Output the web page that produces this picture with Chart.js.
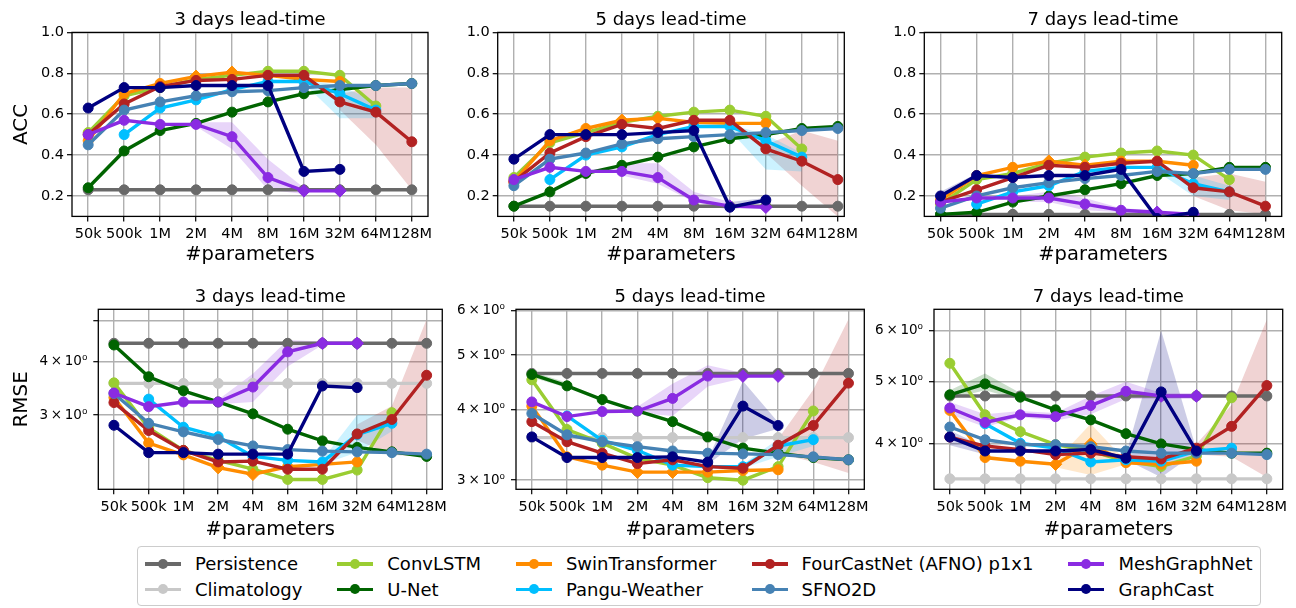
<!DOCTYPE html>
<html>
<head>
<meta charset="utf-8">
<script src="https://cdn.jsdelivr.net/npm/chart.js@4.4.1/dist/chart.umd.min.js"></script>
<style>
html,body{margin:0;padding:0;background:#fff;}
body{width:1296px;height:608px;position:relative;overflow:hidden;font-family:'DejaVu Sans',sans-serif;}
canvas{position:absolute;}
#legend{position:absolute;left:137px;top:546px;height:60px;box-sizing:border-box;border:1px solid #cccccc;border-radius:4px;padding:4px 7px 0 7px;display:flex;gap:35px;background:#fff;}
.col{display:flex;flex-direction:column;}
.entry{display:flex;align-items:center;height:25.5px;}
.handle{position:relative;width:36px;height:25px;margin-right:14px;flex:none;}
.handle .ln{position:absolute;left:0;right:0;top:11px;height:3.4px;}
.handle .mk{position:absolute;left:13px;top:7.5px;width:10px;height:10px;border-radius:50%;}
.lbl{font-size:18px;line-height:25px;white-space:nowrap;color:#000;}
</style>
</head>
<body>
<div id="legend"></div>
<script>
// ---------------- DATA ----------------
const CATEGORIES = ['50k','500k','1M','2M','4M','8M','16M','32M','64M','128M'];
const SERIES = ['Persistence','Climatology','ConvLSTM','U-Net','SwinTransformer','Pangu-Weather','FourCastNet (AFNO) p1x1','SFNO2D','MeshGraphNet','GraphCast'];
const COLORS = ['#696969','#c8c8c8','#9acd32','#006400','#ff8c00','#00bfff','#b22222','#4682b4','#8a2be2','#000080'];
const _ = null;

// ACC, 3 days (rows follow SERIES order)
const ACC_3D = [
  [0.23,0.23,0.23,0.23,0.23,0.23,0.23,0.23,0.23,0.23],
  [_,_,_,_,_,_,_,_,_,_],
  [0.51,0.69,0.73,0.77,0.79,0.81,0.81,0.79,0.64,_],
  [0.24,0.42,0.52,0.555,0.61,0.66,0.70,0.72,0.74,0.75],
  [0.47,0.70,0.75,0.785,0.805,0.79,0.77,0.76,_,_],
  [_,0.50,0.63,0.67,0.72,0.76,0.76,0.70,0.62,_],
  [0.50,0.65,0.735,0.765,0.77,0.79,0.79,0.66,0.61,0.465],
  [0.45,0.62,0.66,0.69,0.71,0.715,0.73,0.74,0.74,0.75],
  [0.50,0.57,0.55,0.55,0.49,0.29,0.225,0.225,_,_],
  [0.63,0.73,0.73,0.74,0.74,0.74,0.32,0.33,_,_]
];
const ACC_3D_BANDS = [ // [series, low, high]
  [8, [_,_,_,0.54,0.43,0.23,0.21,_,_,_], [_,_,_,0.56,0.56,0.38,0.24,_,_,_]],
  [5, [_,_,_,_,_,_,0.75,0.58,0.58,_], [_,_,_,_,_,_,0.77,0.74,0.66,_]],
  [6, [_,_,_,_,_,_,_,0.62,0.45,0.23], [_,_,_,_,_,_,_,0.70,0.73,0.73]]
];

// ACC, 5 days
const ACC_5D = [
  [0.15,0.15,0.15,0.15,0.15,0.15,0.15,0.15,0.15,0.15],
  [_,_,_,_,_,_,_,_,_,_],
  [0.29,0.46,0.51,0.56,0.59,0.61,0.62,0.59,0.43,_],
  [0.15,0.22,0.31,0.35,0.39,0.44,0.48,0.50,0.53,0.54],
  [0.27,0.47,0.53,0.57,0.58,0.56,0.555,0.555,_,_],
  [_,0.28,0.40,0.44,0.50,0.54,0.54,0.47,0.39,_],
  [0.27,0.41,0.49,0.55,0.53,0.57,0.57,0.43,0.37,0.28],
  [0.25,0.38,0.41,0.455,0.48,0.49,0.50,0.51,0.52,0.53],
  [0.28,0.34,0.32,0.32,0.29,0.18,0.15,0.145,_,_],
  [0.38,0.50,0.50,0.50,0.51,0.52,0.145,0.18,_,_]
];
const ACC_5D_BANDS = [
  [8, [_,_,_,0.30,0.26,0.17,0.13,_,_,_], [_,_,_,0.36,0.36,0.22,0.17,_,_,_]],
  [9, [_,_,_,_,_,0.51,0.13,0.17,_,_], [_,_,_,_,_,0.53,0.17,0.19,_,_]],
  [5, [_,_,_,_,_,_,0.52,0.33,0.32,_], [_,_,_,_,_,_,0.55,0.50,0.41,_]],
  [6, [_,_,_,_,_,_,_,0.41,0.25,0.10], [_,_,_,_,_,_,_,0.45,0.52,0.47]]
];

// ACC, 7 days
const ACC_7D = [
  [0.11,0.11,0.11,0.11,0.11,0.11,0.11,0.11,0.11,0.11],
  [_,_,_,_,_,_,_,_,_,_],
  [0.16,0.28,0.31,0.36,0.39,0.41,0.42,0.40,0.28,_],
  [0.11,0.12,0.17,0.20,0.23,0.26,0.30,0.31,0.34,0.34],
  [0.18,0.30,0.34,0.37,0.35,0.37,0.37,0.35,_,_],
  [_,0.16,0.22,0.25,0.32,0.34,0.34,0.26,0.22,_],
  [0.17,0.23,0.29,0.35,0.34,0.36,0.37,0.24,0.22,0.15],
  [0.14,0.20,0.24,0.265,0.285,0.30,0.32,0.31,0.33,0.33],
  [0.17,0.19,0.19,0.19,0.16,0.13,0.12,0.11,_,_],
  [0.20,0.30,0.29,0.30,0.30,0.33,0.09,0.12,_,_]
];
const ACC_7D_BANDS = [
  [8, [_,_,0.17,0.17,0.13,0.12,0.11,_,_,_], [_,_,0.20,0.22,0.19,0.14,0.13,_,_,_]],
  [9, [0.18,0.29,_,_,_,_,_,_,_,_], [0.22,0.31,_,_,_,_,_,_,_,_]],
  [5, [_,_,_,_,_,_,0.32,0.20,0.18,_], [_,_,_,_,_,_,0.35,0.30,0.25,_]],
  [6, [_,_,_,_,_,_,_,0.20,0.13,0.11], [_,_,_,_,_,_,_,0.29,0.31,0.27]]
];

// RMSE, 3 days
const RMSE_3D = [
  [4.42,4.42,4.42,4.42,4.42,4.42,4.42,4.42,4.42,4.42],
  [3.56,3.56,3.56,3.56,3.56,3.56,3.56,3.56,3.56,3.56],
  [3.57,2.80,2.48,2.35,2.24,2.12,2.12,2.23,3.04,_],
  [4.38,3.69,3.42,3.22,3.02,2.78,2.61,2.52,2.46,2.40],
  [3.30,2.58,2.42,2.26,2.18,2.27,2.30,2.33,_,_],
  [_,3.27,2.81,2.67,2.40,2.35,2.33,2.70,2.87,_],
  [3.21,2.76,2.48,2.33,2.34,2.24,2.24,2.71,2.93,3.72],
  [3.37,2.87,2.74,2.63,2.54,2.49,2.47,2.46,2.45,2.43],
  [3.38,3.14,3.22,3.22,3.49,4.22,4.42,4.42,_,_],
  [2.84,2.45,2.45,2.43,2.43,2.43,3.51,3.48,_,_]
];
const RMSE_3D_BANDS = [
  [8, [_,_,_,3.18,3.22,3.90,4.38,_,_,_], [_,_,_,3.26,3.75,4.50,4.46,_,_,_]],
  [5, [_,_,_,_,_,_,2.30,2.45,2.75,_], [_,_,_,_,_,_,2.36,3.00,3.00,_]],
  [6, [_,_,_,_,_,_,_,2.62,2.42,2.40], [_,_,_,_,_,_,_,2.85,3.15,5.03]]
];

// RMSE, 5 days
const RMSE_5D = [
  [4.64,4.64,4.64,4.64,4.64,4.64,4.64,4.64,4.64,4.64],
  [3.57,3.57,3.57,3.57,3.57,3.57,3.57,3.57,3.57,3.57],
  [4.52,3.69,3.49,3.28,3.19,3.03,3.00,3.17,3.98,_],
  [4.62,4.41,4.17,3.98,3.81,3.58,3.42,3.35,3.29,3.26],
  [4.06,3.30,3.19,3.10,3.10,3.10,3.12,3.13,_,_],
  [_,3.90,3.53,3.39,3.19,3.17,3.17,3.45,3.54,_],
  [3.81,3.51,3.35,3.21,3.26,3.17,3.15,3.46,3.75,4.46],
  [3.94,3.61,3.51,3.44,3.38,3.35,3.34,3.33,3.30,3.26],
  [4.13,3.89,3.97,3.98,4.19,4.59,4.59,4.59,_,_],
  [3.58,3.29,3.29,3.29,3.30,3.23,4.06,3.75,_,_]
];
const RMSE_5D_BANDS = [
  [3, [4.57,4.37,_,_,_,_,_,_,_,_], [4.67,4.47,_,_,_,_,_,_,_,_]],
  [8, [_,_,_,3.95,3.90,4.40,4.55,_,_,_], [_,_,_,4.05,4.45,4.80,4.65,_,_,_]],
  [9, [_,_,_,_,_,3.20,3.55,3.70,_,_], [_,_,_,_,_,3.26,4.50,3.80,_,_]],
  [5, [_,_,_,_,_,_,3.15,3.30,3.45,_], [_,_,_,_,_,_,3.20,3.55,3.60,_]],
  [6, [_,_,_,_,_,_,_,3.35,3.23,3.09], [_,_,_,_,_,_,_,3.55,4.34,5.79]]
];

// RMSE, 7 days
const RMSE_7D = [
  [4.75,4.75,4.75,4.75,4.75,4.75,4.75,4.75,4.75,4.75],
  [3.53,3.53,3.53,3.53,3.53,3.53,3.53,3.53,3.53,3.53],
  [5.34,4.44,4.18,3.99,3.90,3.76,3.69,3.83,4.72,_],
  [4.77,4.96,4.73,4.52,4.36,4.15,4.00,3.92,3.87,3.87],
  [4.51,3.81,3.76,3.72,4.00,3.74,3.72,3.76,_,_],
  [_,4.30,4.01,3.94,3.75,3.78,3.76,3.90,3.94,_],
  [4.10,3.97,3.92,3.85,3.87,3.82,3.79,3.94,4.26,4.93],
  [4.25,4.06,3.99,3.99,3.96,3.90,3.87,3.87,3.87,3.85],
  [4.55,4.32,4.44,4.41,4.59,4.83,4.75,4.75,_,_],
  [4.10,3.90,3.90,3.90,3.92,3.80,4.82,3.90,_,_]
];
const RMSE_7D_BANDS = [
  [3, [4.70,4.85,4.68,_,_,_,_,_,_,_], [4.85,5.15,4.80,_,_,_,_,_,_,_]],
  [8, [4.45,4.25,4.40,4.35,4.45,4.70,4.70,4.70,_,_], [4.65,4.45,4.50,4.47,4.75,5.00,4.80,4.80,_,_]],
  [4, [_,_,_,3.68,3.58,3.72,_,_,_,_], [_,_,_,3.76,4.30,3.76,_,_,_,_]],
  [9, [3.98,3.85,_,_,_,3.78,3.55,3.88,_,_], [4.20,3.95,_,_,_,3.85,6.00,3.92,_,_]],
  [6, [_,_,_,_,_,_,_,3.85,3.82,3.55], [_,_,_,_,_,_,_,4.00,4.60,6.25]]
];

// tick values / labels
const ACC_TICKS = [0.2,0.4,0.6,0.8,1.0];
const ACC_TICK_LABELS = ['0.2','0.4','0.6','0.8','1.0'];
const RMSE_3D_TICKS = [3,4,5];
const RMSE_3D_TICK_LABELS = ['3\u2009\u00d7\u200910\u2070','4\u2009\u00d7\u200910\u2070',''];
const RMSE_5D_TICKS = [3,4,5,6];
const RMSE_5D_TICK_LABELS = ['3\u2009\u00d7\u200910\u2070','4\u2009\u00d7\u200910\u2070','5\u2009\u00d7\u200910\u2070','6\u2009\u00d7\u200910\u2070'];
const RMSE_7D_TICKS = [4,5,6];
const RMSE_7D_TICK_LABELS = ['4\u2009\u00d7\u200910\u2070','5\u2009\u00d7\u200910\u2070','6\u2009\u00d7\u200910\u2070'];

// ---------------- STYLE / LAYOUT ----------------
const DIAMOND_AT = {4:[3,4], 8:[6,7]};   // marker style: which points are diamonds
const PANELS = [
  {vals:ACC_3D, bands:ACC_3D_BANDS, title:'3 days lead-time', yTitle:'ACC', canvas:[0,0,440,268], area:[72,32.4,428,216.4], xmax:9.45, yType:'linear', ymin:0.1, ymax:1.0, ticks:ACC_TICKS, labels:ACC_TICK_LABELS, tickPad:3, tickFont:14.5, xTitlePad:1.5},
  {vals:ACC_5D, bands:ACC_5D_BANDS, title:'5 days lead-time', yTitle:'', canvas:[440,0,430,268], area:[497.7,32.4,844.3,216.4], xmax:9.18, yType:'linear', ymin:0.1, ymax:1.0, ticks:ACC_TICKS, labels:ACC_TICK_LABELS, tickPad:3, tickFont:14.5, xTitlePad:1.5},
  {vals:ACC_7D, bands:ACC_7D_BANDS, title:'7 days lead-time', yTitle:'', canvas:[870,0,426,268], area:[924.3,32.4,1281.7,216.4], xmax:9.45, yType:'linear', ymin:0.1, ymax:1.0, ticks:ACC_TICKS, labels:ACC_TICK_LABELS, tickPad:3, tickFont:14.5, xTitlePad:1.5},
  {vals:RMSE_3D, bands:RMSE_3D_BANDS, title:'3 days lead-time', yTitle:'RMSE', canvas:[0,268,451,277], area:[98.3,309.3,446.7,489.3], xmax:9.45, yType:'logarithmic', ymin:2.01, ymax:5.31, ticks:RMSE_3D_TICKS, labels:RMSE_3D_TICK_LABELS, tickPad:6, tickFont:13.5, xTitlePad:3},
  {vals:RMSE_5D, bands:RMSE_5D_BANDS, title:'5 days lead-time', yTitle:'', canvas:[451,268,429,277], area:[516,309.3,864.3,489.3], xmax:9.45, yType:'logarithmic', ymin:2.89, ymax:6.03, ticks:RMSE_5D_TICKS, labels:RMSE_5D_TICK_LABELS, tickPad:6, tickFont:13.5, xTitlePad:3},
  {vals:RMSE_7D, bands:RMSE_7D_BANDS, title:'7 days lead-time', yTitle:'', canvas:[868,268,428,277], area:[934,309.3,1282.7,489.3], xmax:9.45, yType:'logarithmic', ymin:3.41, ymax:6.48, ticks:RMSE_7D_TICKS, labels:RMSE_7D_TICK_LABELS, tickPad:6, tickFont:13.5, xTitlePad:3}
];

Chart.defaults.font.family = "'DejaVu Sans'";
Chart.defaults.color = '#000';

function rgba(hex, a){ const n = parseInt(hex.slice(1),16); return `rgba(${(n>>16)&255},${(n>>8)&255},${n&255},${a})`; }
function toXY(arr){ return arr.map((v,i)=>({x:i, y:v})); }

const framePlugin = {
  id:'frame',
  afterDatasetsDraw(chart, args, opts){
    const a = chart.chartArea, ctx = chart.ctx;
    ctx.save();
    ctx.strokeStyle = '#000'; ctx.lineWidth = 1.3;
    ctx.strokeRect(a.left, a.top, a.right-a.left, a.bottom-a.top);
    ctx.fillStyle = '#000';
    ctx.font = "18px 'DejaVu Sans'";
    ctx.textAlign = 'center'; ctx.textBaseline = 'alphabetic';
    ctx.fillText(opts.title, (a.left+a.right)/2, a.top-7.2);
    ctx.restore();
  }
};

function makePanel(p){
  const [cx,cy,cw,ch] = p.canvas;
  const cv = document.createElement('canvas');
  cv.width = cw; cv.height = ch;
  cv.style.left = cx+'px'; cv.style.top = cy+'px'; cv.style.width = cw+'px'; cv.style.height = ch+'px';
  document.body.appendChild(cv);
  const L = p.area[0]-cx, T = p.area[1]-cy, R = cx+cw-p.area[2], B = cy+ch-p.area[3];

  const datasets = [];
  p.bands.forEach(([si, low, high]) => {
    datasets.push({data:toXY(low), borderColor:'transparent', backgroundColor:'transparent', borderWidth:0, pointRadius:0, pointHitRadius:0, fill:false, order:1000});
    datasets.push({data:toXY(high), borderColor:'transparent', backgroundColor:rgba(COLORS[si],0.2), borderWidth:0, pointRadius:0, pointHitRadius:0, fill:'-1', order:1000});
  });
  p.vals.forEach((vals, si) => {
    const dia = DIAMOND_AT[si] || [];
    datasets.push({
      label:SERIES[si], data:toXY(vals),
      borderColor:COLORS[si], backgroundColor:COLORS[si],
      pointBackgroundColor:COLORS[si], pointBorderColor:COLORS[si], pointBorderWidth:1,
      borderWidth:3.4, fill:false, tension:0, spanGaps:false,
      pointStyle: vals.map((v,i)=> dia.includes(i) ? 'rectRot' : 'circle'),
      pointRadius: vals.map((v,i)=> dia.includes(i) ? 6.3 : 5),
      order: SERIES.length - si
    });
  });

  new Chart(cv, {
    type:'line',
    data:{datasets},
    options:{
      responsive:false, animation:false, events:[],
      layout:{padding:{left:0, top:T, right:R, bottom:0}},
      plugins:{legend:{display:false}, tooltip:{enabled:false}, filler:{drawTime:'beforeDatasetsDraw', propagate:false}, frame:{title:p.title}},
      scales:{
        x:{
          type:'linear', min:-0.45, max:p.xmax,
          afterBuildTicks: s => { s.ticks = CATEGORIES.map((c,i)=>({value:i})); },
          afterFit: s => { s.height = B; },
          ticks:{autoSkip:false, maxRotation:0, minRotation:0, padding:4, color:'#000', font:{size:14.5}, callback:(v)=>CATEGORIES[v]},
          grid:{color:'#b0b0b0', lineWidth:1.4, tickLength:5, tickColor:'#000', tickWidth:1.2},
          border:{display:false},
          title:{display:true, text:'#parameters', color:'#000', font:{size:19.5}, padding:{top:0, bottom:p.xTitlePad}}
        },
        y:{
          type:p.yType, min:p.ymin, max:p.ymax,
          afterBuildTicks: s => { s.ticks = p.ticks.map(v=>({value:v})); },
          afterFit: s => { s.width = L; },
          ticks:{autoSkip:false, padding:p.tickPad, color:'#000', font:{size:p.tickFont}, callback:(v,i)=>p.labels[i]},
          grid:{color:'#b0b0b0', lineWidth:1.4, tickLength:5, tickColor:'#000', tickWidth:1.2},
          border:{display:false},
          title:{display:!!p.yTitle, text:p.yTitle, color:'#000', font:{size:20}, padding:{top:10, bottom:0}}
        }
      }
    },
    plugins:[framePlugin]
  });
}
PANELS.forEach(makePanel);

// ---------------- LEGEND (matplotlib-like, 5 columns, column-major) ----------------
const legend = document.getElementById('legend');
for (let c = 0; c < 5; c++) {
  const col = document.createElement('div'); col.className = 'col';
  for (let r = 0; r < 2; r++) {
    const si = c*2 + r;
    const e = document.createElement('div'); e.className = 'entry';
    const h = document.createElement('div'); h.className = 'handle';
    const ln = document.createElement('div'); ln.className = 'ln'; ln.style.background = COLORS[si];
    const mk = document.createElement('div'); mk.className = 'mk'; mk.style.background = COLORS[si];
    h.appendChild(ln); h.appendChild(mk);
    const t = document.createElement('span'); t.className = 'lbl'; t.textContent = SERIES[si];
    e.appendChild(h); e.appendChild(t); col.appendChild(e);
  }
  legend.appendChild(col);
}
</script>
</body>
</html>
